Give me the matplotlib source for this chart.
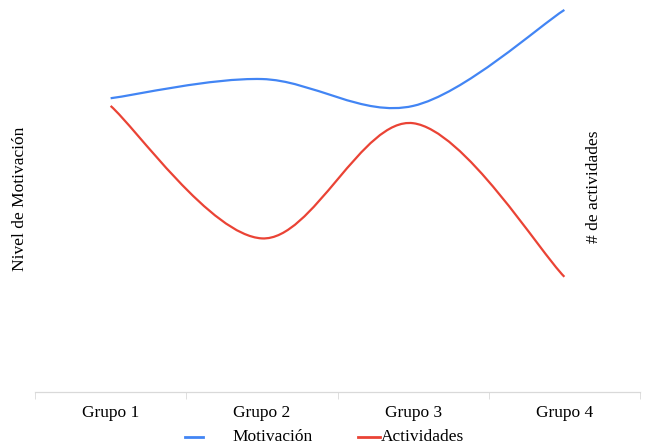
import numpy as np
import matplotlib.pyplot as plt
from matplotlib.path import Path
from matplotlib.patches import PathPatch
from matplotlib.lines import Line2D

plt.rcParams['font.family'] = ['Liberation Serif', 'DejaVu Serif']

# Datos
grupos = ["Grupo 1", "Grupo 2", "Grupo 3", "Grupo 4"]
motivacion = [7.65, 8.15, 7.45, 9.95]
actividades = [7.45, 4.0, 7.0, 3.0]

azul = '#4285F4'
rojo = '#EA4335'
fs = 12.5


def curva_suave(ax, xs, ys, color):
    # Bezier suavizado tipo hoja de cálculo (control = vecinos / 6)
    pts = np.column_stack([xs, ys]).astype(float)
    n = len(pts)
    verts = [pts[0]]
    codes = [Path.MOVETO]
    for i in range(n - 1):
        p0 = pts[max(i - 1, 0)]
        p1 = pts[i]
        p2 = pts[i + 1]
        p3 = pts[min(i + 2, n - 1)]
        c1 = p1 + (p2 - p0) / 6
        c2 = p2 - (p3 - p1) / 6
        verts += [c1, c2, p2]
        codes += [Path.CURVE4] * 3
    ax.add_patch(PathPatch(Path(verts, codes), fill=False, edgecolor=color,
                           linewidth=1.6, capstyle='butt'))


fig = plt.figure(figsize=(6.5, 4.48), dpi=100)
ax1 = fig.add_axes([35 / 650, 1 - 392 / 448, 605 / 650, 384 / 448])
ax2 = ax1.twinx()

x = np.arange(len(grupos))
curva_suave(ax1, x, motivacion, azul)
curva_suave(ax2, x, actividades, rojo)

for ax in (ax1, ax2):
    ax.set_xlim(-0.5, 3.5)
    ax.set_ylim(0, 10)
    ax.set_yticks([])
    for s in ('top', 'left', 'right'):
        ax.spines[s].set_visible(False)
    ax.spines['bottom'].set_color('#d9d9d9')

ax1.set_xticks(x)
ax1.set_xticklabels(grupos, fontsize=fs)
ax1.set_xticks(np.arange(-0.5, 4.0, 1.0), minor=True)
ax1.tick_params(axis='x', which='major', length=0, pad=9)
ax1.tick_params(axis='x', which='minor', length=5, color='#d9d9d9', direction='out')

# Títulos de los ejes
fig.text(20 / 650, 1 - 199 / 448, "Nivel de Motivación", rotation=90,
         ha='center', va='center', fontsize=fs)
fig.text(594 / 650, 1 - 187 / 448, "# de actividades", rotation=90,
         ha='center', va='center', fontsize=fs)

# Leyenda
ly = 1 - 437 / 448
fig.add_artist(Line2D([185 / 650, 203 / 650], [ly, ly], color=azul, linewidth=2))
fig.text(232 / 650, ly, "Motivación", ha='left', va='center', fontsize=fs)
fig.add_artist(Line2D([358 / 650, 380 / 650], [ly, ly], color=rojo, linewidth=2))
fig.text(381 / 650, ly, "Actividades", ha='left', va='center', fontsize=fs)

fig.savefig("out.png", dpi=100)
